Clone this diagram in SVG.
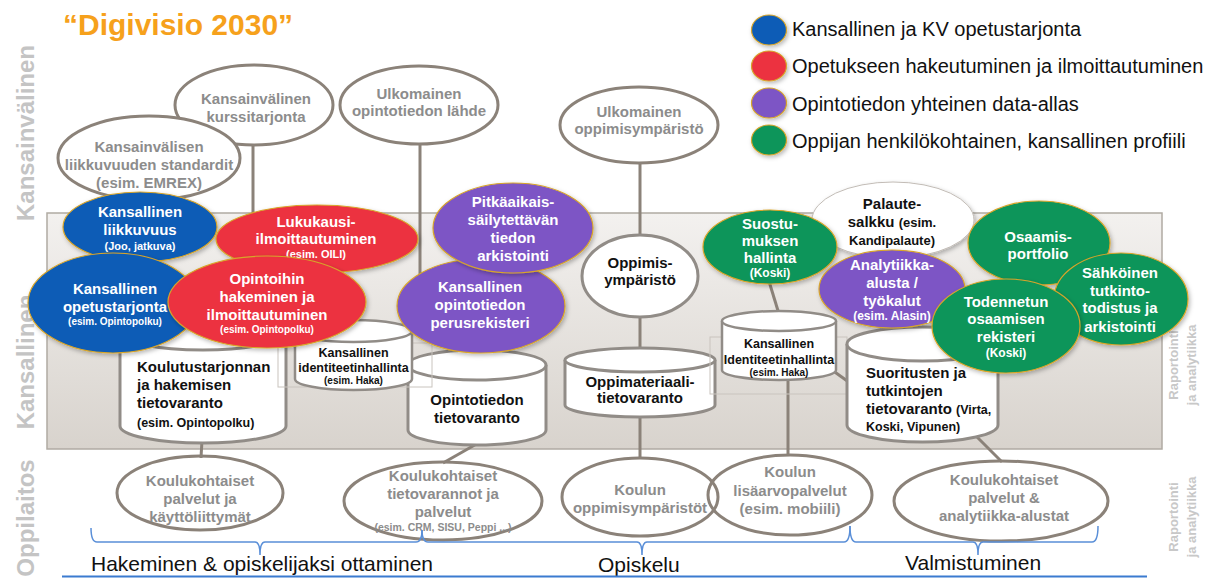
<svg xmlns="http://www.w3.org/2000/svg" width="1215" height="578" viewBox="0 0 1215 578">
<defs>
<linearGradient id="pg" x1="0" y1="0" x2="0" y2="1">
<stop offset="0" stop-color="#f3f1ef"/>
<stop offset="1" stop-color="#d8d3cd"/>
</linearGradient>
<filter id="sh" x="-20%" y="-20%" width="140%" height="150%">
<feDropShadow dx="1.5" dy="2" stdDeviation="2" flood-color="#000" flood-opacity="0.28"/>
</filter>
<style>
text{font-family:"Liberation Sans",Arial,sans-serif;font-weight:bold}
.side{font-size:24px;fill:#c4c4c4;text-anchor:middle}
.rap{font-size:13px;fill:#c8c8c8;text-anchor:middle}
.leg{font-size:20px;font-weight:normal;fill:#111}
.conn{stroke:#8b8279;stroke-width:3;fill:none}
.wl{fill:#fff;stroke:#8b8279;stroke-width:3}
.bl{fill:none;stroke:#8b8279;stroke-width:3}
.wt{font-size:15px;fill:#8c8c8c;text-anchor:middle}
.cyl{fill:#fff;stroke:#918c87;stroke-width:3}
.cyls{fill:#fff;stroke:#918c87;stroke-width:2.5}
.bt{font-size:15px;fill:#111}
.bc{font-size:15px;fill:#111;text-anchor:middle}
.ct{font-size:15px;fill:#fff;text-anchor:middle}
.s10{font-size:10px}
.s105{font-size:10.5px}
.s11{font-size:11px}
.s12{font-size:12px}
.s125{font-size:12.5px}
.s13{font-size:13px}
.blue{fill:#0c5cb6;stroke:#d8a52a;stroke-width:1.2}
.red{fill:#ec3240;stroke:#d8a52a;stroke-width:1.2}
.pur{fill:#7d55c5;stroke:#d8a52a;stroke-width:1.2}
.grn{fill:#09955a;stroke:#d8a52a;stroke-width:1.2}
.box{fill:none;stroke:#c9c4be;stroke-width:1}
.brk{fill:none;stroke:#5a8fd8;stroke-width:1.5}
.ph{font-size:21px;font-weight:normal;fill:#111}
.title{font-size:30px;fill:#f6a11c}
</style>
</defs>
<rect width="1215" height="578" fill="#fff"/>

<text class="title" x="63" y="35">“Digivisio 2030”</text>

<g id="side-labels">
<text class="side" transform="translate(34,133) rotate(-90)">Kansainvälinen</text>
<text class="side" transform="translate(34,362) rotate(-90)">Kansallinen</text>
<text class="side" transform="translate(34,518) rotate(-90)">Oppilaitos</text>
<text class="rap" transform="translate(1178,365) rotate(-90)">Raportointi</text>
<text class="rap" transform="translate(1196,365) rotate(-90)">ja analytiikka</text>
<text class="rap" transform="translate(1178,517) rotate(-90)">Raportointi</text>
<text class="rap" transform="translate(1196,517) rotate(-90)">ja analytiikka</text>
</g>

<g id="legend">
<ellipse cx="769" cy="30" rx="17.5" ry="15" class="blue" filter="url(#sh)"/>
<text class="leg" x="792" y="36">Kansallinen ja KV opetustarjonta</text>
<ellipse cx="769" cy="66" rx="17.5" ry="15" class="red" filter="url(#sh)"/>
<text class="leg" x="792" y="73">Opetukseen hakeutuminen ja ilmoittautuminen</text>
<ellipse cx="769" cy="103" rx="17.5" ry="15" class="pur" filter="url(#sh)"/>
<text class="leg" x="792" y="111">Opintotiedon yhteinen data-allas</text>
<ellipse cx="769" cy="140" rx="17.5" ry="15" class="grn" filter="url(#sh)"/>
<text class="leg" x="792" y="148">Oppijan henkilökohtainen, kansallinen profiili</text>
</g>

<g id="panel">
<rect x="47" y="213" width="1115" height="236" fill="url(#pg)" stroke="#b0aaa3" stroke-width="1.5"/>
</g>

<g id="connectors">
<line class="conn" x1="253" y1="146" x2="253" y2="222"/>
<line class="conn" x1="420" y1="143" x2="420" y2="282"/>
<line class="conn" x1="640" y1="163" x2="640" y2="240"/>
<line class="conn" x1="640" y1="312" x2="640" y2="355"/>
<line class="conn" x1="640" y1="414" x2="640" y2="459"/>
<line class="conn" x1="788" y1="378" x2="788" y2="456"/>
<line class="conn" x1="768" y1="278" x2="779" y2="314"/>
<line class="conn" x1="832" y1="370" x2="850" y2="383"/>
<line class="conn" x1="975" y1="435" x2="1002" y2="462"/>
<line class="conn" x1="202" y1="440" x2="201" y2="458"/>
<line class="conn" x1="480" y1="442" x2="443" y2="463"/>
</g>

<g id="n-kurssitarjonta">
<ellipse class="wl" cx="254" cy="105" rx="79" ry="40"/>
<text class="wt" x="256" y="104">Kansainvälinen</text>
<text class="wt" x="256" y="122">kurssitarjonta</text>
</g>
<g id="n-emrex">
<ellipse class="wl" cx="149" cy="158" rx="91" ry="42"/>
<text class="wt" x="149" y="152">Kansainvälisen</text>
<text class="wt" x="149" y="170">liikkuvuuden standardit</text>
<text class="wt" x="149" y="188">(esim. EMREX)</text>
</g>
<g id="n-ulk-opintotieto">
<ellipse class="wl" cx="419" cy="105" rx="79" ry="39"/>
<text class="wt" x="419" y="99">Ulkomainen</text>
<text class="wt" x="419" y="116">opintotiedon lähde</text>
</g>
<g id="n-ulk-oppimisymparisto">
<ellipse class="wl" cx="639" cy="125" rx="79" ry="38"/>
<text class="wt" x="639" y="117">Ulkomainen</text>
<text class="wt" x="639" y="134">oppimisympäristö</text>
</g>

<g id="n-koulutustarjonta-tv">
<path class="cyl" d="M120,333 V426 A83,17 0 0 0 286,426 V333"/>
<ellipse class="cyl" cx="203" cy="333" rx="83" ry="17"/>
<text class="bt" x="137" y="372">Koulutustarjonnan</text>
<text class="bt" x="137" y="390">ja hakemisen</text>
<text class="bt" x="137" y="408">tietovaranto</text>
<text class="bt s125" x="137" y="427">(esim. Opintopolku)</text>
</g>
<g id="n-opintotieto-tv">
<path class="cyl" d="M408,365 V430 A69,15 0 0 0 546,430 V365"/>
<ellipse class="cyl" cx="477" cy="365" rx="69" ry="15"/>
<text class="bc" x="477" y="405">Opintotiedon</text>
<text class="bc" x="477" y="423">tietovaranto</text>
</g>
<g id="n-oppimateriaali-tv">
<path class="cyl" d="M565,360 V405 A75,12 0 0 0 715,405 V360"/>
<ellipse class="cyl" cx="640" cy="360" rx="75" ry="12"/>
<text class="bc" x="640" y="387">Oppimateriaali-</text>
<text class="bc" x="640" y="403">tietovaranto</text>
</g>
<g id="n-identiteetti-1">
<rect class="box" x="278" y="343" width="154" height="44"/>
<path class="cyls" d="M295,331 V379 A58.5,11 0 0 0 412,379 V331"/>
<ellipse class="cyls" cx="353.5" cy="331" rx="58.5" ry="11"/>
<text class="bc s125" x="353.5" y="357">Kansallinen</text>
<text class="bc s125" x="353.5" y="372">identiteetinhallinta</text>
<text class="bc s10" x="353.5" y="384">(esim. Haka)</text>
</g>
<g id="n-identiteetti-2">
<rect class="box" x="710" y="337" width="137" height="57"/>
<path class="cyls" d="M722,321 V370 A57,10 0 0 0 836,370 V321"/>
<ellipse class="cyls" cx="779" cy="321" rx="57" ry="10"/>
<text class="bc s125" x="779" y="348">Kansallinen</text>
<text class="bc s125" x="779" y="364">Identiteetinhallinta</text>
<text class="bc s10" x="779" y="376">(esim. Haka)</text>
</g>
<g id="n-suoritukset-tv">
<path class="cyl" d="M847,344 V425 A75.5,17 0 0 0 998,425 V344"/>
<ellipse class="cyl" cx="922.5" cy="344" rx="75.5" ry="17"/>
<text class="bt" x="866" y="378">Suoritusten ja</text>
<text class="bt" x="866" y="396">tutkintojen</text>
<text class="bt" x="866" y="414">tietovaranto <tspan class="s125">(Virta,</tspan></text>
<text class="bt s125" x="866" y="431">Koski, Vipunen)</text>
</g>

<g id="n-oppimisymparisto">
<ellipse class="cyl" cx="640" cy="276" rx="58" ry="41"/>
<text class="bc" x="640" y="268">Oppimis-</text>
<text class="bc" x="640" y="285">ympäristö</text>
</g>

<g id="n-liikkuvuus">
<ellipse class="blue" cx="140" cy="227" rx="77" ry="35" filter="url(#sh)"/>
<text class="ct" x="140" y="217">Kansallinen</text>
<text class="ct" x="140" y="235">liikkuvuus</text>
<text class="ct s11" x="140" y="250">(Joo, jatkuva)</text>
</g>
<g id="n-opetustarjonta">
<ellipse class="blue" cx="113" cy="303" rx="85" ry="50" filter="url(#sh)"/>
<text class="ct" x="115" y="294">Kansallinen</text>
<text class="ct" x="115" y="312">opetustarjonta</text>
<text class="ct s10" x="115" y="325">(esim. Opintopolku)</text>
</g>
<g id="n-lukukausi">
<ellipse class="red" cx="317" cy="239" rx="101" ry="34" filter="url(#sh)"/>
<text class="ct" x="316" y="227">Lukukausi-</text>
<text class="ct" x="316" y="244">ilmoittautuminen</text>
<text class="ct s11" x="316" y="258">(esim. OILI)</text>
</g>
<g id="n-opintoihin-hakeminen">
<ellipse class="red" cx="267" cy="302" rx="99" ry="46" filter="url(#sh)"/>
<text class="ct" x="267" y="284">Opintoihin</text>
<text class="ct" x="267" y="302">hakeminen ja</text>
<text class="ct" x="267" y="320">ilmoittautuminen</text>
<text class="ct s10" x="267" y="333">(esim. Opintopolku)</text>
</g>
<g id="n-perusrekisteri">
<ellipse class="pur" cx="481" cy="306" rx="84" ry="47" filter="url(#sh)"/>
<text class="ct" x="480" y="292">Kansallinen</text>
<text class="ct" x="480" y="310">opintotiedon</text>
<text class="ct" x="480" y="328">perusrekisteri</text>
</g>
<g id="n-arkistointi">
<ellipse class="pur" cx="513" cy="228" rx="80" ry="45" filter="url(#sh)"/>
<text class="ct" x="513" y="207">Pitkäaikais-</text>
<text class="ct" x="513" y="225">säilytettävän</text>
<text class="ct" x="513" y="243">tiedon</text>
<text class="ct" x="513" y="261">arkistointi</text>
</g>
<g id="n-palautesalkku">
<ellipse cx="893" cy="220" rx="81" ry="38" fill="#fff" stroke="#c2bcb6" stroke-width="1" filter="url(#sh)"/>
<text class="bc" x="892" y="209">Palaute-</text>
<text class="bc" x="892" y="227">salkku <tspan class="s13">(esim.</tspan></text>
<text class="bc s13" x="892" y="245">Kandipalaute)</text>
</g>
<g id="n-suostumus">
<ellipse class="grn" cx="770" cy="247" rx="67" ry="37" filter="url(#sh)"/>
<text class="ct" x="770" y="229">Suostu-</text>
<text class="ct" x="770" y="246">muksen</text>
<text class="ct" x="770" y="263">hallinta</text>
<text class="ct s12" x="770" y="277">(Koski)</text>
</g>
<g id="n-analytiikka">
<ellipse class="pur" cx="892" cy="289" rx="73" ry="39" filter="url(#sh)"/>
<text class="ct" x="892" y="270">Analytiikka-</text>
<text class="ct" x="892" y="288">alusta /</text>
<text class="ct" x="892" y="306">työkalut</text>
<text class="ct s12" x="892" y="320">(esim. Alasin)</text>
</g>
<g id="n-osaamisportfolio">
<ellipse class="grn" cx="1039" cy="243" rx="71" ry="42" filter="url(#sh)"/>
<text class="ct" x="1038" y="242">Osaamis-</text>
<text class="ct" x="1038" y="259">portfolio</text>
</g>
<g id="n-tutkintotodistus">
<ellipse class="grn" cx="1121" cy="299" rx="67" ry="46" filter="url(#sh)"/>
<text class="ct" x="1120" y="278">Sähköinen</text>
<text class="ct" x="1120" y="296">tutkinto-</text>
<text class="ct" x="1120" y="313">todistus ja</text>
<text class="ct" x="1120" y="332">arkistointi</text>
</g>
<g id="n-todennettu-osaaminen">
<ellipse class="grn" cx="1006" cy="326" rx="74" ry="47" filter="url(#sh)"/>
<text class="ct" x="1006" y="307">Todennetun</text>
<text class="ct" x="1006" y="324">osaamisen</text>
<text class="ct" x="1006" y="342">rekisteri</text>
<text class="ct s12" x="1006" y="357">(Koski)</text>
</g>

<g id="n-koulu-palvelut">
<ellipse class="bl" cx="200" cy="493" rx="83" ry="37"/>
<text class="wt" x="200" y="486">Koulukohtaiset</text>
<text class="wt" x="200" y="504">palvelut ja</text>
<text class="wt" x="200" y="522">käyttöliittymät</text>
</g>
<g id="n-koulu-tietovarannot">
<ellipse class="bl" cx="443" cy="501" rx="99" ry="39"/>
<text class="wt" x="443" y="481">Koulukohtaiset</text>
<text class="wt" x="443" y="499">tietovarannot ja</text>
<text class="wt" x="443" y="517">palvelut</text>
<text class="wt s105" x="443" y="531">(esim. CRM, SISU, Peppi ...)</text>
</g>
<g id="n-koulu-oppimisymparistot">
<ellipse class="bl" cx="640" cy="497" rx="78" ry="39"/>
<text class="wt" x="640" y="495">Koulun</text>
<text class="wt" x="640" y="513">oppimisympäristöt</text>
</g>
<g id="n-koulu-lisaarvo">
<ellipse class="bl" cx="790" cy="495" rx="82" ry="40"/>
<text class="wt" x="790" y="477">Koulun</text>
<text class="wt" x="790" y="496">lisäarvopalvelut</text>
<text class="wt" x="790" y="514">(esim. mobiili)</text>
</g>
<g id="n-koulu-analytiikka">
<ellipse class="bl" cx="1001" cy="501" rx="107" ry="40"/>
<text class="wt" x="1004" y="485">Koulukohtaiset</text>
<text class="wt" x="1004" y="503">palvelut &amp;</text>
<text class="wt" x="1004" y="521">analytiikka-alustat</text>
</g>

<g id="phases">
<path class="brk" d="M91,528 Q91,542 97,542 L255,542 Q260,542 260,555 Q260,542 265,542 L416,542 Q422,542 422,530"/>
<path class="brk" d="M422,530 Q422,542 428,542 L637,542 Q642,542 642,555 Q642,542 647,542 L844,542 Q850,542 850,526"/>
<path class="brk" d="M850,526 Q850,542 856,542 L973,542 Q978,542 978,555 Q978,542 983,542 L1092,542 Q1098,542 1098,526"/>
<text class="ph" x="91" y="571">Hakeminen &amp; opiskelijaksi ottaminen</text>
<text class="ph" x="598" y="572">Opiskelu</text>
<text class="ph" x="905" y="570">Valmistuminen</text>
<line x1="62" y1="576.5" x2="1147" y2="576.5" stroke="#3b7bd0" stroke-width="2"/>
</g>
</svg>
